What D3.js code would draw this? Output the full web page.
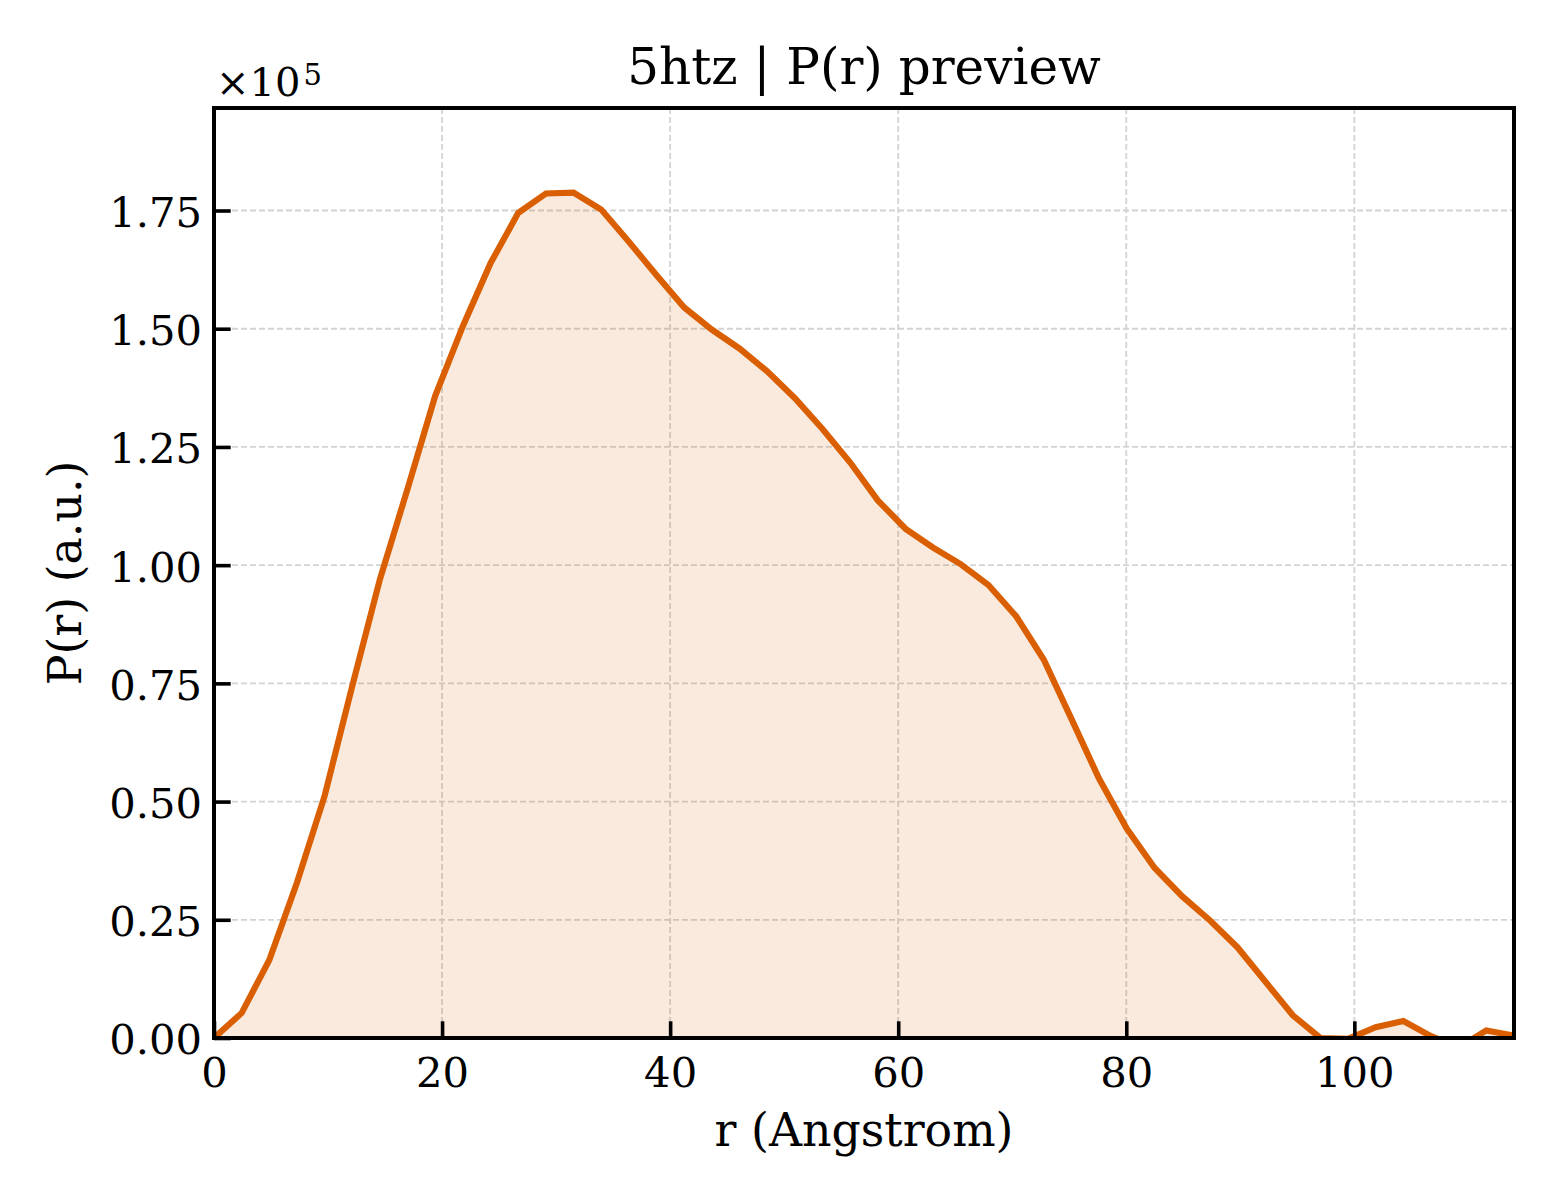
<!DOCTYPE html>
<html>
<head>
<meta charset="utf-8">
<script src="https://cdn.jsdelivr.net/npm/d3@7"></script>
<style>
  body { margin: 0; background: #fff; }
  svg { display: block; font-family: "DejaVu Serif", serif; }
  .tick text { font-size: 41.7px; fill: #000; }
</style>
</head>
<body>
<svg width="1560" height="1200"></svg>
<script>
// P(r) curve, values in units of 1e5
const rValues = [0, 2.43, 4.85, 7.28, 9.70, 12.13, 14.55, 16.98, 19.40, 21.83, 24.26, 26.68,
	29.11, 31.53, 33.96, 36.38, 38.81, 41.23, 43.66, 46.09, 48.51, 50.94, 53.36, 55.79,
	58.21, 60.64, 63.06, 65.49, 67.91, 70.34, 72.77, 75.19, 77.62, 80.04, 82.47, 84.89,
	87.32, 89.74, 92.17, 94.60, 97.02, 99.45, 101.87, 104.30, 106.72, 109.15, 111.57, 114.00];
const prValues = [0, 0.053, 0.165, 0.329, 0.512, 0.745, 0.970, 1.162, 1.358, 1.506, 1.639, 1.745,
	1.786, 1.788, 1.752, 1.684, 1.613, 1.545, 1.498, 1.458, 1.410, 1.353, 1.288, 1.217,
	1.137, 1.077, 1.037, 1.002, 0.958, 0.892, 0.800, 0.675, 0.548, 0.443, 0.360, 0.300,
	0.249, 0.192, 0.120, 0.048, 0.000, -0.002, 0.023, 0.036, 0.004, -0.020, 0.016, 0.005];
const xTicks = [0, 20, 40, 60, 80, 100];
const yTicks = [0, 0.25, 0.5, 0.75, 1.0, 1.25, 1.5, 1.75];
const exponent = 5;
const title = '5htz | P(r) preview';
const xLabel = 'r (Angstrom)';
const yLabel = 'P(r) (a.u.)';

const margin = { left: 214, right: 46, top: 108, bottom: 162 };

const svg = d3.select('svg');
const width = +svg.attr('width');
const height = +svg.attr('height');
const innerWidth = width - margin.left - margin.right;
const innerHeight = height - margin.top - margin.bottom;

const lineColor = '#d95f02';

const rows = rValues.map((r, i) => ({ r: r, p: prValues[i] }));

const xScale = d3.scaleLinear()
	.domain([0, 114])
	.range([0, innerWidth]);

const yScale = d3.scaleLinear()
	.domain([0, d3.max(prValues) * 1.1])
	.range([innerHeight, 0]);

const g = svg.append('g')
	.attr('transform', `translate(${margin.left}, ${margin.top})`);

g.append('clipPath')
	.attr('id', 'plot-clip')
	.append('rect')
	.attr('width', innerWidth)
	.attr('height', innerHeight);

// grid
g.append('g')
	.selectAll('line')
	.data(xTicks)
	.enter()
	.append('line')
	.attr('x1', d => xScale(d))
	.attr('x2', d => xScale(d))
	.attr('y1', 0)
	.attr('y2', innerHeight)
	.attr('stroke', '#d3d3d3')
	.attr('stroke-width', 1.8)
	.attr('stroke-dasharray', '6,3');

g.append('g')
	.selectAll('line')
	.data(yTicks)
	.enter()
	.append('line')
	.attr('x1', 0)
	.attr('x2', innerWidth)
	.attr('y1', d => yScale(d))
	.attr('y2', d => yScale(d))
	.attr('stroke', '#d3d3d3')
	.attr('stroke-width', 1.8)
	.attr('stroke-dasharray', '6,3');

const plot = g.append('g').attr('clip-path', 'url(#plot-clip)');

const area = d3.area()
	.x(d => xScale(d.r))
	.y0(yScale(0))
	.y1(d => yScale(d.p));

const line = d3.line()
	.x(d => xScale(d.r))
	.y(d => yScale(d.p));

plot.append('path')
	.datum(rows)
	.attr('d', area)
	.attr('fill', lineColor)
	.attr('fill-opacity', 0.13);

plot.append('path')
	.datum(rows)
	.attr('d', line)
	.attr('fill', 'none')
	.attr('stroke', lineColor)
	.attr('stroke-width', 6.2)
	.attr('stroke-linejoin', 'miter');

// axes, ticks pointing inward
const xAxis = d3.axisBottom(xScale)
	.tickValues(xTicks)
	.tickSize(-16.7)
	.tickPadding(19);

const yAxis = d3.axisLeft(yScale)
	.tickValues(yTicks)
	.tickFormat(d3.format('.2f'))
	.tickSize(-16.7)
	.tickPadding(12);

g.append('g')
	.attr('transform', `translate(0, ${innerHeight})`)
	.call(xAxis)
	.call(a => a.select('.domain').remove())
	.call(a => a.selectAll('.tick line').attr('stroke', '#000').attr('stroke-width', 3.6))
	.call(a => a.selectAll('.tick text').attr('font-family', 'DejaVu Serif'));

g.append('g')
	.call(yAxis)
	.call(a => a.select('.domain').remove())
	.call(a => a.selectAll('.tick line').attr('stroke', '#000').attr('stroke-width', 3.6))
	.call(a => a.selectAll('.tick text').attr('font-family', 'DejaVu Serif').attr('dy', '0.38em'));

// frame
g.append('rect')
	.attr('width', innerWidth)
	.attr('height', innerHeight)
	.attr('fill', 'none')
	.attr('stroke', '#000')
	.attr('stroke-width', 4);

// texts
svg.append('text')
	.attr('x', margin.left + innerWidth / 2)
	.attr('y', 84)
	.attr('text-anchor', 'middle')
	.attr('font-size', 50)
	.text(title);

svg.append('text')
	.attr('x', margin.left + innerWidth / 2)
	.attr('y', 1146)
	.attr('text-anchor', 'middle')
	.attr('font-size', 45.8)
	.text(xLabel);

svg.append('text')
	.attr('transform', `translate(81, ${margin.top + innerHeight / 2}) rotate(-90)`)
	.attr('text-anchor', 'middle')
	.attr('font-size', 45.8)
	.text(yLabel);

const offsetLabel = svg.append('text')
	.attr('x', 216)
	.attr('y', 96)
	.attr('font-size', 40);
offsetLabel.append('tspan').text('×10');
offsetLabel.append('tspan')
	.attr('dy', -11)
	.attr('dx', 3)
	.attr('font-size', 29)
	.text(exponent);
</script>
</body>
</html>
